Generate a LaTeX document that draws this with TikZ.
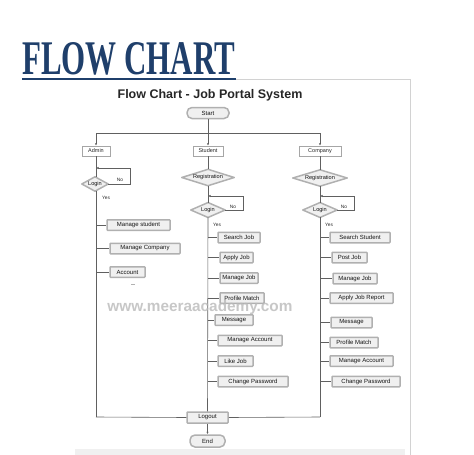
\documentclass[tikz,border=0pt]{standalone}
\usepackage{fontspec}
\setmainfont{Liberation Sans}
\newfontfamily\titleserif{Liberation Serif}
\usetikzlibrary{arrows.meta,backgrounds}
\definecolor{titleblue}{HTML}{1F3F6B}
\tikzset{
  ln/.style={draw=gray!75!black, line width=0.6pt},
  arr/.style={ln, -{Latex[length=2.5pt,width=2.2pt]}},
  role/.style={draw=gray!70, line width=0.5pt, fill=white, minimum height=10pt, inner sep=1pt, font=\fontsize{5.5}{6}\selectfont, text=gray!30!black},
  item/.style={draw=gray!62, line width=1.5pt, fill=gray!12, minimum height=10.5pt, inner sep=0.5pt, rounded corners=0.6pt, font=\fontsize{6}{6}\selectfont, text=gray!15!black},
  term/.style={item, rounded corners=5pt},
  dec/.style={rectangle, inner sep=0pt, font=\fontsize{5.6}{6}\selectfont, text=gray!15!black},
  decshape/.style={draw=gray!62, line width=1.5pt, fill=gray!12, line join=round},
  lbl/.style={font=\fontsize{4.8}{5}\selectfont, text=gray!30!black, inner sep=0pt}
}
\begin{document}
\begin{tikzpicture}[x=1pt,y=-1pt]
\useasboundingbox (0,0) rectangle (474,455);
% frame
\fill[gray!12] (75,449) rectangle (405,455);
\draw[gray!35, line width=0.8pt] (236,79) -- (410,79) -- (410,455);
% big title
\node[anchor=south west, inner sep=0pt, text=titleblue] (bigtitle) at (22,75)
  {\resizebox{213pt}{32pt}{\titleserif\bfseries FLOW CHART}};
\draw[titleblue, line width=2pt] (22,78.5) -- (236,78.5);
% subtitle
\node[font=\bfseries\fontsize{12.5}{14}\selectfont, text=black!85] (sub) at (210,95.5) {Flow Chart - Job Portal System};
% start
\node[term, minimum width=42pt, minimum height=11pt] (start) at (208,113) {Start};
\coordinate (hub) at (208,133);
% roles
\node[role, minimum width=28pt] (admin) at (96,151) {Admin};
\node[role, minimum width=30pt] (student) at (208,151) {Student};
\node[role, minimum width=42pt] (company) at (320,151) {Company};
\draw[ln] (start) -- (hub);
\draw[arr] (hub) -| (admin.north);
\draw[arr] (hub) -- (student.north);
\draw[arr] (hub) -| (company.north);
% admin column
\node[dec, minimum width=26pt, minimum height=14pt] (l1) at (95,184) {Login};
\coordinate (l1in) at (96,168);
\coordinate (l1out) at (96,417);
\draw[ln] (admin) -- (l1in);
\draw[ln] (l1in) -- (l1in |- l1.north);
\draw[arr] (l1.east) -- (130,184) |- (l1in);
\node[lbl] (no1) at (120,180) {No};
\node[lbl] (yes1) at (106,198) {Yes};
\node[item, minimum width=63pt] (a1) at (138.5,225) {Manage student};
\node[item, minimum width=70pt] (a2) at (145,248.5) {Manage Company};
\node[item, minimum width=35pt] (a3) at (127.5,272) {Account};
\draw[ln] (l1in |- l1.south) -- (l1out);
\foreach \n in {a1,a2,a3} \draw[ln] (l1in |- \n.west) -- (\n.west);
\draw[gray!60, line width=0.5pt] (131,284.5) -- (135,284.5);
% student column
\node[dec, minimum width=52pt, minimum height=16pt] (r2) at (208,177.5) {Registration};
\node[dec, minimum width=34pt, minimum height=14.5pt] (l2) at (208,210) {Login};
\coordinate (l2in) at (208,196);
\draw[ln] (student) -- (r2.north);
\draw[ln] (r2.south) -- (l2in);
\draw[ln] (l2in) -- (l2.north);
\draw[arr] (l2.east) -- (243,210) |- (l2in);
\node[lbl] (no2) at (233,207) {No};
\node[lbl] (yes2) at (217,225) {Yes};
\node[item, minimum width=42pt] (s1) at (239,237.5) {Search Job};
\node[item, minimum width=33pt] (s2) at (236.5,257.5) {Apply Job};
\node[item, minimum width=38pt] (s3) at (239,278) {Manage Job};
\node[item, minimum width=44pt] (s4) at (242,298) {Profile Match};
\node[item, minimum width=38pt] (s5) at (234,320) {Message};
\node[item, minimum width=64pt] (s6) at (250,340.5) {Manage Account};
\node[item, minimum width=35pt] (s7) at (235.5,361) {Like Job};
\node[item, minimum width=70pt] (s8) at (253,381.5) {Change Password};
\node[item, minimum width=41pt, minimum height=11pt] (logout) at (207.5,417.5) {Logout};
\node[term, minimum width=35pt, minimum height=12pt] (end) at (207.5,441) {End};
\draw[ln] (l2.south) -- (logout);
\foreach \n in {s1,s2,s3,s4,s5,s6,s7,s8} \draw[ln] (l2in |- \n.west) -- (\n.west);
\draw[arr] (logout) -- (end);
\draw[ln] (l1out) -- (logout.west);
% company column
\node[dec, minimum width=54pt, minimum height=16pt] (r3) at (320,178) {Registration};
\node[dec, minimum width=34pt, minimum height=14.5pt] (l3) at (320,210) {Login};
\coordinate (l3in) at (320,196);
\coordinate (l3out) at (320,417);
\draw[ln] (company) -- (r3.north);
\draw[ln] (r3.south) -- (l3in);
\draw[ln] (l3in) -- (l3.north);
\draw[arr] (l3.east) -- (354,210) |- (l3in);
\node[lbl] (no3) at (344,207) {No};
\node[lbl] (yes3) at (329,225) {Yes};
\node[item, minimum width=60pt] (c1) at (360,237.5) {Search Student};
\node[item, minimum width=35pt] (c2) at (349.5,257.5) {Post Job};
\node[item, minimum width=44pt] (c3) at (355,278.5) {Manage Job};
\node[item, minimum width=63pt] (c4) at (361.5,298) {Apply Job Report};
\node[item, minimum width=41pt] (c5) at (351.5,322.5) {Message};
\node[item, minimum width=48pt] (c6) at (354,342.5) {Profile Match};
\node[item, minimum width=63pt] (c7) at (361.5,361) {Manage Account};
\node[item, minimum width=68pt] (c8) at (366,381.5) {Change Password};
\draw[ln] (l3.south) -- (l3out);
\foreach \n in {c1,c2,c3,c4,c5,c6,c7,c8} \draw[ln] (l3in |- \n.west) -- (\n.west);
\draw[ln] (l3out) -- (logout.east);
% diamonds behind their texts
\begin{scope}[on background layer]
  \foreach \d in {l1,r2,l2,r3,l3}
    \draw[decshape] (\d.north) -- (\d.east) -- (\d.south) -- (\d.west) -- cycle;
\end{scope}
% watermark
\node[text=gray!55, opacity=0.8, inner sep=0pt] (wm) at (200,308)
  {\resizebox{185pt}{!}{\bfseries www.meeraacademy.com}};
\end{tikzpicture}
\end{document}
